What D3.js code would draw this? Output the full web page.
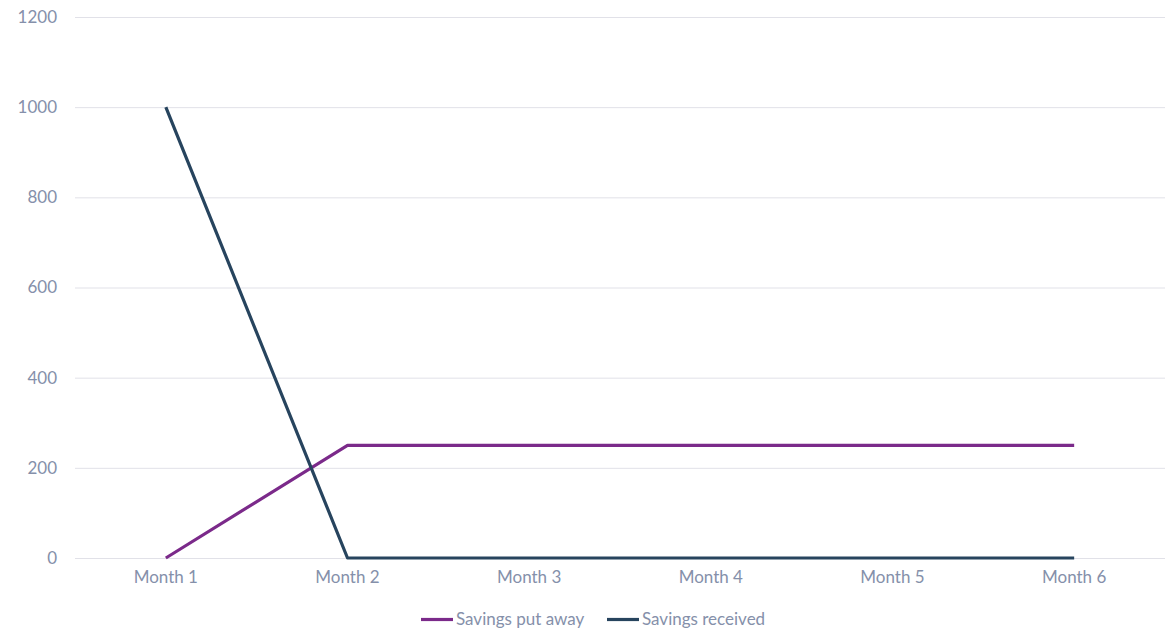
<!DOCTYPE html>
<html>
<head>
<meta charset="utf-8">
<script src="https://cdn.jsdelivr.net/npm/d3@7"></script>
<style>
  html, body { margin: 0; padding: 0; background: #fff; }
  svg text { font-family: Lato, "Open Sans", sans-serif; fill: #8590aa; font-size: 17px; }
</style>
</head>
<body>
<svg id="chart" width="1170" height="630"></svg>
<script>
const months = ["Month 1", "Month 2", "Month 3", "Month 4", "Month 5", "Month 6"];
const savingsPutAway = [0, 250, 250, 250, 250, 250];
const savingsReceived = [1000, 0, 0, 0, 0, 0];
const yTicks = [0, 200, 400, 600, 800, 1000, 1200];
const seriesNames = ["Savings put away", "Savings received"];
const seriesColors = ["#7b2a8a", "#27445e"];

const svg = d3.select("#chart");
const plot = { left: 75, right: 1165, top: 17, bottom: 558 };

const x = d3.scaleBand().domain(months).range([plot.left, plot.right]);
const y = d3.scaleLinear().domain([0, 1200]).range([plot.bottom, plot.top]);

// horizontal gridlines
svg.append("g").selectAll("line").data(yTicks).join("line")
  .attr("x1", plot.left).attr("x2", plot.right)
  .attr("y1", d => y(d) + 0.5).attr("y2", d => y(d) + 0.5)
  .attr("stroke", "#e1e1e8").attr("stroke-width", 1);

// y-axis labels
svg.append("g").selectAll("text").data(yTicks).join("text")
  .attr("x", 57).attr("y", d => y(d)).attr("dy", "0.35em")
  .attr("text-anchor", "end").text(d => d);

// x-axis labels
svg.append("g").selectAll("text").data(months).join("text")
  .attr("x", d => x(d) + x.bandwidth() / 2).attr("y", 583)
  .attr("text-anchor", "middle").text(d => d);

const line = d3.line()
  .x((d, i) => x(months[i]) + x.bandwidth() / 2)
  .y(d => y(d));

[savingsPutAway, savingsReceived].forEach((vals, k) => {
  svg.append("path").datum(vals)
    .attr("d", line)
    .attr("fill", "none")
    .attr("stroke", seriesColors[k])
    .attr("stroke-width", 3.2)
    .attr("stroke-linejoin", "round");
});

// legend
const legendItems = [{x: 421}, {x: 607}];
legendItems.forEach((it, k) => {
  svg.append("line")
    .attr("x1", it.x).attr("x2", it.x + 32)
    .attr("y1", 619.5).attr("y2", 619.5)
    .attr("stroke", seriesColors[k]).attr("stroke-width", 3.2);
  svg.append("text")
    .attr("x", it.x + 35).attr("y", 619).attr("dy", "0.35em")
    .text(seriesNames[k]);
});
</script>
</body>
</html>
